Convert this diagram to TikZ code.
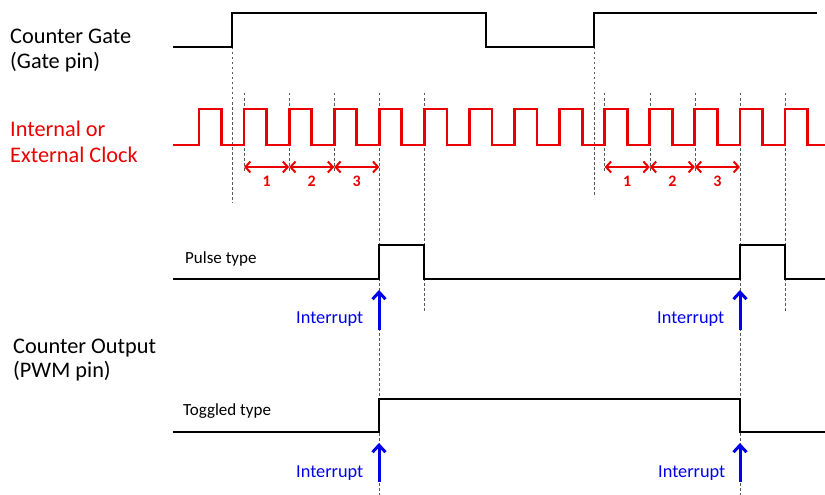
\documentclass[tikz,border=0pt]{standalone}
\usepackage{fontspec}
\setmainfont{Carlito}
\usetikzlibrary{arrows.meta}
\definecolor{clk}{RGB}{235,0,0}
\definecolor{intr}{RGB}{0,0,235}
\begin{document}
\begin{tikzpicture}[x=1pt,y=-1pt,
  sig/.style={line width=2.8pt, line join=miter},
  clksig/.style={sig, draw=clk},
  guide/.style={draw=black!65, line width=0.6pt, dash pattern=on 2.5pt off 2.5pt},
  bigtxt/.style={anchor=base west, inner sep=0pt, font=\fontsize{22.3}{24}\selectfont},
  smalltxt/.style={anchor=base west, inner sep=0pt, font=\fontsize{17}{18}\selectfont},
  inttxt/.style={anchor=base west, inner sep=0pt, text=intr, font=\fontsize{18.3}{20}\selectfont},
  numtxt/.style={anchor=base, inner sep=0pt, text=clk, font=\bfseries\fontsize{16}{18}\selectfont},
  cnt/.style={draw=clk, line width=2pt, {Straight Barb[length=5pt,width=11pt]}-{Straight Barb[length=5pt,width=11pt]}},
  intarrow/.style={draw=intr, line width=3pt, -{Straight Barb[length=7pt,width=13pt]}}
]
\useasboundingbox (0,0) rectangle (825,495);

% labels
\node[bigtxt] (lg1) at (10,44) {Counter Gate};
\node[bigtxt] (lg2) at (10,68.5) {(Gate pin)};
\node[bigtxt,text=clk] (lc1) at (10,136) {Internal or};
\node[bigtxt,text=clk] (lc2) at (10,162) {External Clock};
\node[bigtxt] (lo1) at (13,353) {Counter Output};
\node[bigtxt] (lo2) at (13,377) {(PWM pin)};
\node[smalltxt] (lp) at (185,263) {Pulse type};
\node[smalltxt] (lt) at (183,415) {Toggled type};

% guide lines
\draw[guide] (232,47) -- (232,203);
\draw[guide] (594,47) -- (594,197);
\foreach \k in {1,2,3,9,10,11} {
  \draw[guide] ({199+45.08*\k},93) -- ({199+45.08*\k},172);
}
\draw[guide] (379,93) -- (379,495);
\draw[guide] (424,93) -- (424,312);
\draw[guide] (740,93) -- (740,495);
\draw[guide] (785,93) -- (785,312);

% gate
\draw[sig] (173,47) -- (232,47) -- (232,13) -- (486,13) -- (486,47) -- (594,47) -- (594,13) -- (817,13);

% clock
\draw[clksig] (173,145) foreach \k in {0,...,13} { -- ({199+45.08*\k},145) -- ({199+45.08*\k},109) -- ({221.5+45.08*\k},109) -- ({221.5+45.08*\k},145) } -- (825,145);

% counting arrows
\foreach \k/\n [count=\i] in {1/1,2/2,3/3} {
  \coordinate (a\i) at ({199+45.08*\k},167);
  \coordinate (b\i) at ({199+45.08*(\k+1)},167);
  \draw[cnt] (a\i) -- (b\i);
  \node[numtxt] (n\i) at ({221.5+45.08*\k},186) {\n};
}
\foreach \k/\n [count=\i] in {9/1,10/2,11/3} {
  \coordinate (c\i) at ({199+45.08*\k},167);
  \coordinate (d\i) at ({199+45.08*(\k+1)},167);
  \draw[cnt] (c\i) -- (d\i);
  \node[numtxt] (m\i) at ({221.5+45.08*\k},186) {\n};
}

% pulse type
\draw[sig] (173,279) -- (379,279) -- (379,245) -- (424,245) -- (424,279) -- (740,279) -- (740,245) -- (785,245) -- (785,279) -- (825,279);

% toggled type
\draw[sig] (173,432) -- (379,432) -- (379,399) -- (740,399) -- (740,432) -- (825,432);

% interrupts
\coordinate (i1s) at (379,330); \coordinate (i1e) at (379,290);
\coordinate (i2s) at (740,330); \coordinate (i2e) at (740,290);
\coordinate (i3s) at (379,482); \coordinate (i3e) at (379,443);
\coordinate (i4s) at (740,482); \coordinate (i4e) at (740,443);
\draw[intarrow] (i1s) -- (i1e);
\draw[intarrow] (i2s) -- (i2e);
\draw[intarrow] (i3s) -- (i3e);
\draw[intarrow] (i4s) -- (i4e);
\node[inttxt] (t1) at (296,323) {Interrupt};
\node[inttxt] (t2) at (657,323) {Interrupt};
\node[inttxt] (t3) at (296,477) {Interrupt};
\node[inttxt] (t4) at (658,477) {Interrupt};
\end{tikzpicture}
\end{document}
